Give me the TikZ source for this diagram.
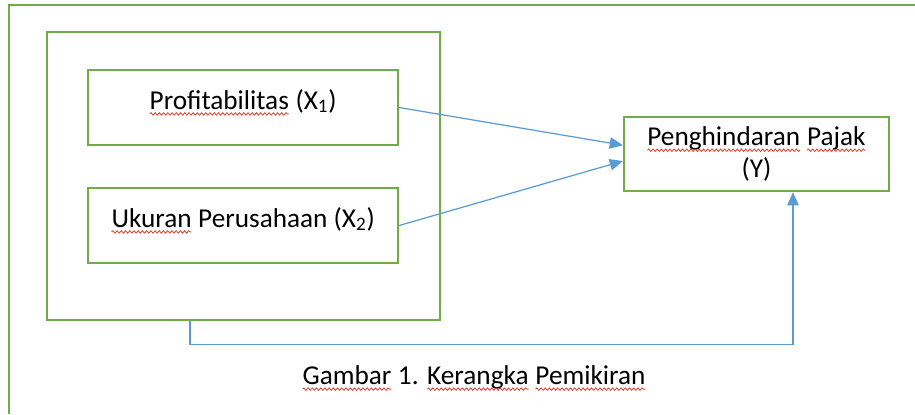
\documentclass[tikz,border=0pt]{standalone}
\usepackage{fontspec}
\setmainfont{Carlito}
\usetikzlibrary{arrows.meta,decorations.pathmorphing}
\definecolor{hijau}{HTML}{70AD47}
\definecolor{biru}{HTML}{5B9BD5}
\definecolor{merah}{HTML}{E0402A}
% red wavy underline of the spell checker
\newcommand{\salah}[1]{\tikz[baseline=0pt]{%
  \node[anchor=base west, inner sep=0pt, outer sep=0pt, draw=none,
    text height=, text depth=, minimum width=0pt, minimum height=0pt] (w) {#1};
  \draw[merah, line width=0.45pt, decorate,
    decoration={snake, amplitude=0.7pt, segment length=2.4pt}]
    ([yshift=-2.8pt]w.base west) -- ([yshift=-2.8pt]w.base east);}}

\begin{document}
\begin{tikzpicture}[
    x=0.02cm, y=-0.02cm,
    >={Triangle[length=7.5pt, width=6.5pt]},
    every node/.style={font=\fontsize{15.5}{18.5}\selectfont, align=center},
    kotak/.style={rectangle, draw=hijau, line width=1.3pt},
    var/.style={kotak, minimum width=6.2cm, minimum height=1.5cm, text height=0.38cm, text depth=0.32cm},
    panah/.style={->, draw=biru, line width=0.7pt}
  ]
  \useasboundingbox (0,0) rectangle (915,414);
  \fill[white] (0,0) rectangle (915,414);
  \draw[hijau, line width=1.3pt] (9,414) -- (9,5) -- (915,5);

  \node[kotak, minimum width=7.86cm, minimum height=5.76cm] (grup) at (243.5,176) {};
  \node[var] (prof) at (243,107.5) {\salah{Profitabilitas} (X\textsubscript{1})};
  \node[var] (ukuran) at (243,225.5) {\salah{Ukuran} Perusahaan (X\textsubscript{2})};
  \node[kotak, minimum width=5.3cm, minimum height=1.48cm] (pajak) at (756.5,154) {\salah{Penghindaran} \salah{Pajak}\\(Y)};
  \node (judul) at (474,378) {\salah{Gambar} 1. \salah{Kerangka} \salah{Pemikiran}};

  \draw[panah] (prof.east) -- ([yshift=5pt]pajak.west);
  \draw[panah] (ukuran.east) -- ([yshift=-4pt]pajak.west);
  \draw[panah] ([xshift=-1.07cm]grup.south) -- ++(0,23) -| ([xshift=0.73cm]pajak.south);
\end{tikzpicture}
\end{document}
